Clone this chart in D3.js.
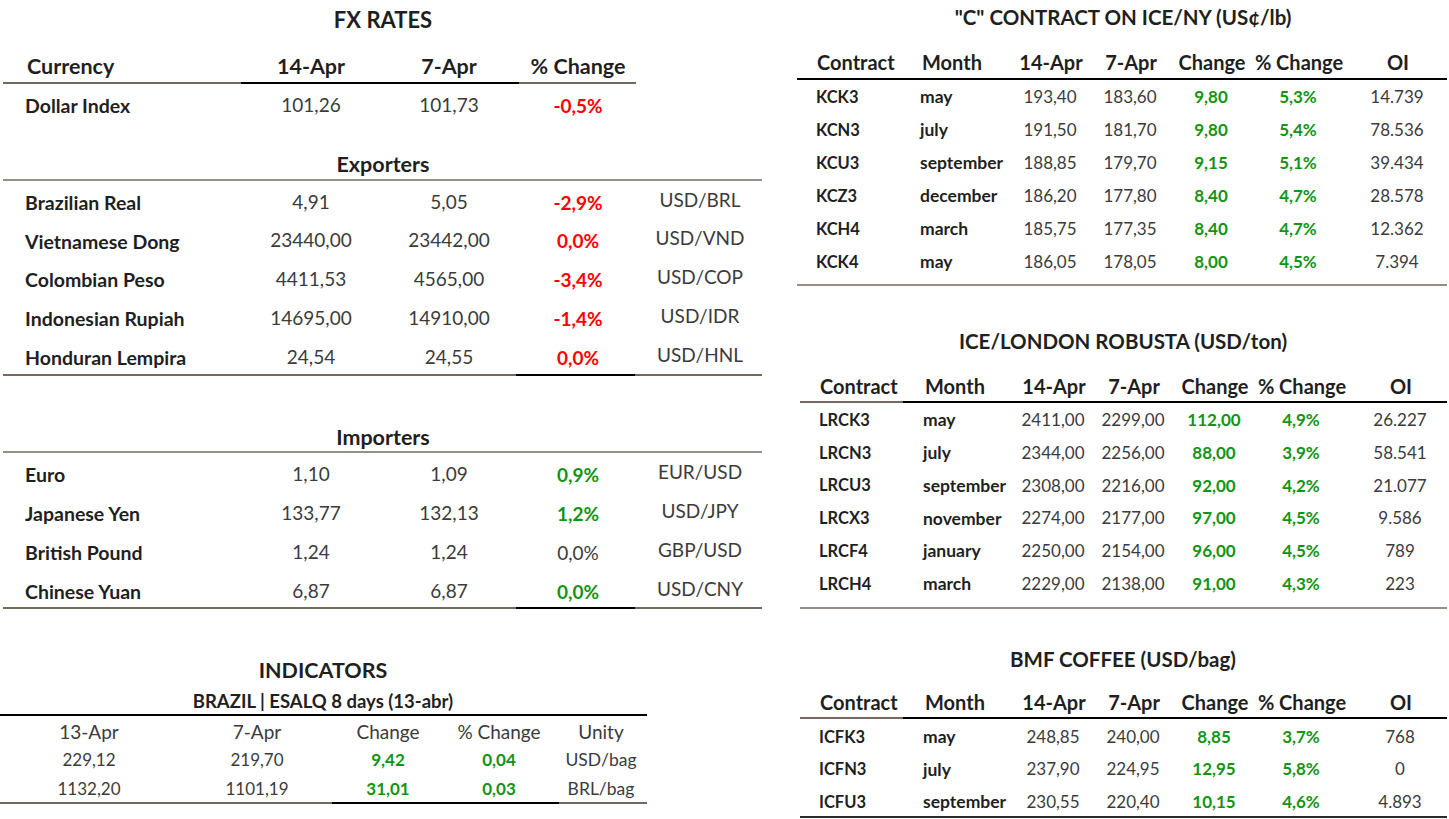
<!DOCTYPE html>
<html>
<head>
<meta charset="utf-8">
<script src="https://cdn.jsdelivr.net/npm/d3@7"></script>
<style>
body { margin: 0; background: #fff; }
text { font-family: Lato, "Open Sans", sans-serif; }
</style>
</head>
<body>
<div id="chart"></div>
<script>

/** Data **/

// FX rates
var fxHeader = ["Currency", "14-Apr", "7-Apr", "% Change"];
var dollarName = ["Dollar Index"];
var dollarCur = [101.26];
var dollarPrev = [101.73];
var dollarPct = [-0.5];
var dollarTrend = [-1];

var exporterNames = ["Brazilian Real", "Vietnamese Dong", "Colombian Peso", "Indonesian Rupiah", "Honduran Lempira"];
var exporterCur = [4.91, 23440.00, 4411.53, 14695.00, 24.54];
var exporterPrev = [5.05, 23442.00, 4565.00, 14910.00, 24.55];
var exporterPct = [-2.9, 0.0, -3.4, -1.4, 0.0];
var exporterTrend = [-1, -1, -1, -1, -1];
var exporterPairs = ["USD/BRL", "USD/VND", "USD/COP", "USD/IDR", "USD/HNL"];

var importerNames = ["Euro", "Japanese Yen", "British Pound", "Chinese Yuan"];
var importerCur = [1.10, 133.77, 1.24, 6.87];
var importerPrev = [1.09, 132.13, 1.24, 6.87];
var importerPct = [0.9, 1.2, 0.0, 0.0];
var importerTrend = [1, 1, 0, 1];
var importerPairs = ["EUR/USD", "USD/JPY", "GBP/USD", "USD/CNY"];

// Indicators
var indHeader = ["13-Apr", "7-Apr", "Change", "% Change", "Unity"];
var indCur = [229.12, 1132.20];
var indPrev = [219.70, 1101.19];
var indChange = [9.42, 31.01];
var indPct = [0.04, 0.03];
var indUnity = ["USD/bag", "BRL/bag"];

// Futures
var futHeader = ["Contract", "Month", "14-Apr", "7-Apr", "Change", "% Change", "OI"];

var nyContracts = ["KCK3", "KCN3", "KCU3", "KCZ3", "KCH4", "KCK4"];
var nyMonths = ["may", "july", "september", "december", "march", "may"];
var nyCur = [193.40, 191.50, 188.85, 186.20, 185.75, 186.05];
var nyPrev = [183.60, 181.70, 179.70, 177.80, 177.35, 178.05];
var nyChange = [9.80, 9.80, 9.15, 8.40, 8.40, 8.00];
var nyPct = [5.3, 5.4, 5.1, 4.7, 4.7, 4.5];
var nyOI = [14739, 78536, 39434, 28578, 12362, 7394];

var ldContracts = ["LRCK3", "LRCN3", "LRCU3", "LRCX3", "LRCF4", "LRCH4"];
var ldMonths = ["may", "july", "september", "november", "january", "march"];
var ldCur = [2411.00, 2344.00, 2308.00, 2274.00, 2250.00, 2229.00];
var ldPrev = [2299.00, 2256.00, 2216.00, 2177.00, 2154.00, 2138.00];
var ldChange = [112.00, 88.00, 92.00, 97.00, 96.00, 91.00];
var ldPct = [4.9, 3.9, 4.2, 4.5, 4.5, 4.3];
var ldOI = [26227, 58541, 21077, 9586, 789, 223];

var bmfContracts = ["ICFK3", "ICFN3", "ICFU3"];
var bmfMonths = ["may", "july", "september"];
var bmfCur = [248.85, 237.90, 230.55];
var bmfPrev = [240.00, 224.95, 220.40];
var bmfChange = [8.85, 12.95, 10.15];
var bmfPct = [3.7, 5.8, 4.6];
var bmfOI = [768, 0, 4893];


/** Options **/

var color = {"up" : "#149414", "down" : "#ff0000", "text" : "#1f1f1f", "num" : "#3b3b3b", "brown" : "#76695c", "black" : "#000"};

var loc = d3.formatLocale({decimal: ",", thousands: ".", grouping: [3], currency: ["", ""], minus: "-"});
var f2 = loc.format(".2f");
var fPct = function(v){ return loc.format(".1f")(v) + "%"; };
var fOI = loc.format(",d");
var fTxt = function(v){ return v; };

var svg = d3.select("#chart")
            .append("svg")
            .attr("width", 1449)
            .attr("height", 819);

var left = svg.append("g").attr("id", "fx");
var right = svg.append("g").attr("id", "futures");
var ind = svg.append("g").attr("id", "indicators");


/** FX rates **/

var xFx = d3.scaleOrdinal()
            .domain(["name", "cur", "prev", "pct", "pair"])
            .range([25, 311, 449, 578, 700]);

title(left, "FX RATES", 383, 20, 22);

left.selectAll(".fxHead")
    .data(fxHeader)
    .enter()
        .append("text")
        .attr("class", "fxHead")
        .attr("x", function(d, i){ return i == 0 ? 27 : xFx(["name", "cur", "prev", "pct"][i]); })
        .attr("y", 66)
        .attr("dy", "0.35em")
        .attr("text-anchor", function(d, i){ return i == 0 ? "start" : "middle"; })
        .attr("font-size", 21.5)
        .attr("font-weight", 700)
        .attr("fill", color.text)
        .text(function(d){ return d; });

rule(left, 83, 2, [[3, 241, color.brown], [241, 519, color.black], [519, 636, color.brown]]);

fxRows(left, zip(dollarName, dollarCur, dollarPrev, dollarPct, dollarTrend, [""]), d3.scalePoint().domain([0]).range([106, 106]));

title(left, "Exporters", 383, 164, 21.5);
rule(left, 180, 1.5, [[3, 762, color.brown]]);
fxRows(left, zip(exporterNames, exporterCur, exporterPrev, exporterPct, exporterTrend, exporterPairs),
       d3.scalePoint().domain(d3.range(exporterNames.length)).range([203, 358]));
rule(left, 375, 2, [[3, 516, color.brown], [516, 635, color.black], [635, 762, color.brown]]);

title(left, "Importers", 383, 437, 21.5);
rule(left, 452, 1.5, [[3, 762, color.brown]]);
fxRows(left, zip(importerNames, importerCur, importerPrev, importerPct, importerTrend, importerPairs),
       d3.scalePoint().domain(d3.range(importerNames.length)).range([475, 592]));
rule(left, 608, 2, [[3, 516, color.brown], [516, 635, color.black], [635, 762, color.brown]]);


/** Indicators **/

var xInd = d3.scaleOrdinal()
             .domain(["cur", "prev", "chg", "pct", "unity"])
             .range([89, 257, 388, 499, 601]);

title(ind, "INDICATORS", 323, 670, 21.5);
title(ind, "BRAZIL | ESALQ 8 days (13-abr)", 323, 702, 18.5);
rule(ind, 715, 2, [[0, 647, color.black]]);

ind.selectAll(".indHead")
   .data(indHeader)
   .enter()
       .append("text")
       .attr("class", "indHead")
       .attr("x", function(d, i){ return xInd(xInd.domain()[i]); })
       .attr("y", 732)
       .attr("dy", "0.35em")
       .attr("text-anchor", "middle")
       .attr("font-size", 19)
       .attr("fill", color.num)
       .text(function(d){ return d; });

var indRows = indCur.map(function(v, i){ return {"cur" : v, "prev" : indPrev[i], "chg" : indChange[i], "pct" : indPct[i], "unity" : indUnity[i]}; });
var yInd = d3.scalePoint().domain(d3.range(indRows.length)).range([760, 789]);

cells(ind, indRows, yInd, [
    {"key" : "cur", "x" : xInd("cur"), "fmt" : f2, "size" : 17},
    {"key" : "prev", "x" : xInd("prev"), "fmt" : f2, "size" : 17},
    {"key" : "chg", "x" : xInd("chg"), "fmt" : f2, "size" : 17, "fill" : color.up, "weight" : 700},
    {"key" : "pct", "x" : xInd("pct"), "fmt" : f2, "size" : 17, "fill" : color.up, "weight" : 700},
    {"key" : "unity", "x" : xInd("unity"), "fmt" : fTxt, "size" : 17.5}
]);

rule(ind, 803, 2, [[0, 332, color.brown], [332, 559, color.black], [559, 647, color.brown]]);


/** Futures **/

var xFut = d3.scaleOrdinal()
             .domain(["contract", "month", "cur", "prev", "chg", "pct", "oi"])
             .range([816, 920, 1050, 1130, 1211, 1298, 1397]);

futTable(right, "\"C\" CONTRACT ON ICE/NY (US\u00a2/lb)", 18, 63, 0,
         zip2(nyContracts, nyMonths, nyCur, nyPrev, nyChange, nyPct, nyOI), [97, 262]);
rule(right, 79, 2, [[797, 1447, color.black]]);
rule(right, 285, 1.5, [[797, 1447, color.brown]]);

futTable(right, "ICE/LONDON ROBUSTA (USD/ton)", 342, 387, 3,
         zip2(ldContracts, ldMonths, ldCur, ldPrev, ldChange, ldPct, ldOI), [420, 584]);
rule(right, 402, 2, [[800, 903, color.brown], [903, 1447, color.black]]);
rule(right, 608, 1.5, [[800, 1447, color.brown]]);

futTable(right, "BMF COFFEE (USD/bag)", 660, 703, 3,
         zip2(bmfContracts, bmfMonths, bmfCur, bmfPrev, bmfChange, bmfPct, bmfOI), [737, 802]);
rule(right, 718, 2, [[800, 903, color.brown], [903, 1447, color.black]]);
rule(right, 817, 2, [[800, 1447, "#2b2b2b"]]);


/** Functions **/

function zip(names, cur, prev, pct, trend, pair)
{
	return names.map(function(n, i){ return {"name" : n, "cur" : cur[i], "prev" : prev[i], "pct" : pct[i], "trend" : trend[i], "pair" : pair[i]}; });
}

function zip2(contract, month, cur, prev, chg, pct, oi)
{
	return contract.map(function(c, i){ return {"contract" : c, "month" : month[i], "cur" : cur[i], "prev" : prev[i], "chg" : chg[i], "pct" : pct[i], "oi" : oi[i]}; });
}

function title(g, txt, x, y, size)
{
	g.append("text")
	 .attr("x", x)
	 .attr("y", y)
	 .attr("dy", "0.35em")
	 .attr("text-anchor", "middle")
	 .attr("font-size", size)
	 .attr("font-weight", 700)
	 .attr("fill", color.text)
	 .text(txt);
}

// horizontal line made of coloured segments
function rule(g, y, w, segments)
{
	g.selectAll(null)
	 .data(segments)
	 .enter()
		.append("line")
		.attr("x1", function(d){ return d[0]; })
		.attr("x2", function(d){ return d[1]; })
		.attr("y1", y)
		.attr("y2", y)
		.attr("stroke", function(d){ return d[2]; })
		.attr("stroke-width", w);
}

function trendColor(t)
{
	return t < 0 ? color.down : (t > 0 ? color.up : color.num);
}

function cells(g, rows, y, cols)
{
	cols.forEach(function(c)
	{
		g.selectAll(null)
		 .data(rows)
		 .enter()
			.append("text")
			.attr("x", c.x)
			.attr("y", function(d, i){ return y(i) + (c.dy || 0); })
			.attr("dy", "0.35em")
			.attr("text-anchor", c.anchor || "middle")
			.attr("font-size", c.size)
			.attr("font-weight", function(d){ return typeof c.weight == "function" ? c.weight(d) : (c.weight || 400); })
			.attr("fill", function(d){ return typeof c.fill == "function" ? c.fill(d) : (c.fill || color.num); })
			.text(function(d){ return c.fmt(d[c.key]); });
	});
}

function fxRows(g, rows, y)
{
	cells(g, rows, y, [
		{"key" : "name", "x" : xFx("name"), "anchor" : "start", "fmt" : fTxt, "size" : 19.5, "weight" : 700, "fill" : color.text},
		{"key" : "cur", "x" : xFx("cur"), "fmt" : f2, "size" : 19, "dy" : -1},
		{"key" : "prev", "x" : xFx("prev"), "fmt" : f2, "size" : 19, "dy" : -1},
		{"key" : "pct", "x" : xFx("pct"), "fmt" : fPct, "size" : 19,
		 "fill" : function(d){ return trendColor(d.trend); },
		 "weight" : function(d){ return d.trend == 0 ? 400 : 700; }},
		{"key" : "pair", "x" : xFx("pair"), "fmt" : fTxt, "size" : 19, "dy" : -3}
	]);
}

function futTable(g, txt, yTitle, yHead, dx, rows, yRange)
{
	title(g, txt, 1123, yTitle, 20.5);

	g.selectAll(null)
	 .data(futHeader)
	 .enter()
		.append("text")
		.attr("x", function(d, i){ return i == 0 ? xFut("contract") + dx + 1 : (i == 1 ? xFut("month") + dx + 2 : xFut(xFut.domain()[i]) + dx + 1); })
		.attr("y", yHead)
		.attr("dy", "0.35em")
		.attr("text-anchor", function(d, i){ return i < 2 ? "start" : "middle"; })
		.attr("font-size", 20)
		.attr("font-weight", 700)
		.attr("fill", color.text)
		.text(function(d){ return d; });

	var y = d3.scalePoint().domain(d3.range(rows.length)).range(yRange);

	cells(g, rows, y, [
		{"key" : "contract", "x" : xFut("contract") + dx, "anchor" : "start", "fmt" : fTxt, "size" : 16.5, "weight" : 700, "fill" : color.text},
		{"key" : "month", "x" : xFut("month") + dx, "anchor" : "start", "fmt" : fTxt, "size" : 17.5, "weight" : 700, "fill" : color.text},
		{"key" : "cur", "x" : xFut("cur") + dx, "fmt" : f2, "size" : 17},
		{"key" : "prev", "x" : xFut("prev") + dx, "fmt" : f2, "size" : 17},
		{"key" : "chg", "x" : xFut("chg") + dx, "fmt" : f2, "size" : 17, "weight" : 700, "fill" : color.up},
		{"key" : "pct", "x" : xFut("pct") + dx, "fmt" : fPct, "size" : 17, "weight" : 700, "fill" : color.up},
		{"key" : "oi", "x" : xFut("oi") + dx, "fmt" : fOI, "size" : 17}
	]);
}

</script>
</body>
</html>
